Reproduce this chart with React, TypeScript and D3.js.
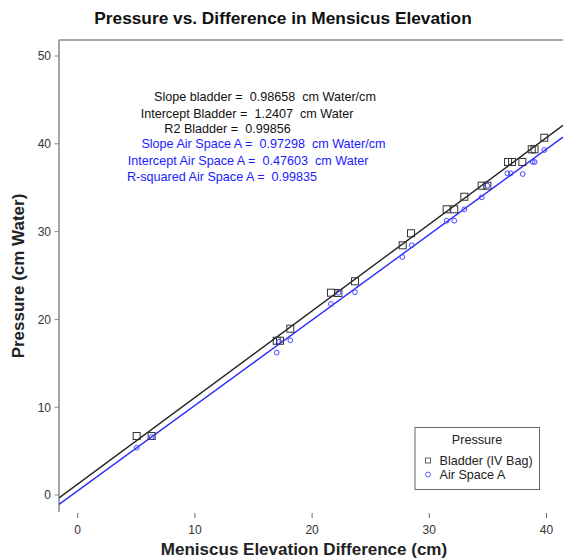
import React from "react";
import * as d3 from "d3";

const bladderX = [5.03, 6.31, 16.98, 17.26, 18.14, 21.61, 22.24, 23.66, 27.73, 28.44, 31.48, 32.13, 32.99, 34.47, 34.95, 36.72, 37.06, 37.94, 38.74, 38.98, 39.81];
const bladderY = [6.72, 6.72, 17.57, 17.57, 18.94, 23.04, 23.01, 24.34, 28.44, 29.81, 32.54, 32.54, 33.97, 35.23, 35.23, 37.93, 37.93, 37.93, 39.37, 39.37, 40.69];
const airX = [5.03, 6.31, 16.98, 17.2, 18.14, 21.61, 22.24, 23.66, 27.7, 28.5, 31.48, 32.13, 32.99, 34.47, 34.95, 36.66, 36.95, 37.97, 38.82, 38.99, 39.81];
const airY = [5.39, 6.6, 16.21, 17.46, 17.62, 21.75, 23.04, 23.09, 27.1, 28.44, 31.24, 31.24, 32.54, 33.9, 35.23, 36.64, 36.64, 36.56, 37.93, 37.93, 39.29];

const fitBladder = { slope: 0.98658, intercept: 1.2407 };
const fitAir = { slope: 0.97298, intercept: 0.47603 };

const xTicks = [0, 10, 20, 30, 40];
const yTicks = [0, 10, 20, 30, 40, 50];

const annotations = [
  { text: "Slope bladder =  0.98658  cm Water/cm", cx: 265, y: 101.3, color: "#111" },
  { text: "Intercept Bladder =  1.2407  cm Water", cx: 247, y: 117.6, color: "#111" },
  { text: "R2 Bladder =  0.99856", cx: 227.5, y: 133.3, color: "#111" },
  { text: "Slope Air Space A =  0.97298  cm Water/cm", cx: 263.5, y: 148.3, color: "#1a1aff" },
  { text: "Intercept Air Space A =  0.47603  cm Water", cx: 248, y: 164.6, color: "#1a1aff" },
  { text: "R-squared Air Space A =  0.99835", cx: 222, y: 180.6, color: "#1a1aff" },
];

const W = 563;
const H = 559;
const left = 59;
const right = 563;
const top = 40;
const bottom = 512;

export default function App() {
  const x = d3.scaleLinear().domain([0, 40]).range([77.7, 546.5]);
  const y = d3.scaleLinear().domain([0, 50]).range([495, 56]);
  const xDom = [x.invert(left), x.invert(right)];
  const fitPath = (f: { slope: number; intercept: number }) =>
    d3
      .line<number>()
      .x((d) => x(d))
      .y((d) => y(f.slope * d + f.intercept))(xDom) || "";
  const font = "'Liberation Sans', Arial, Helvetica, sans-serif";
  const pre = { whiteSpace: "pre" as const };
  return (
    <svg
      width={W}
      height={H}
      style={{ position: "absolute", left: 0, top: 0, background: "#fff" }}
      fontFamily={font}
    >
      <defs>
        <clipPath id="plotclip">
          <rect x={left} y={top} width={right - left} height={bottom - top} />
        </clipPath>
      </defs>
      <text x={283} y={23.5} textAnchor="middle" fontSize={17.3} fontWeight="bold" fill="#111">
        Pressure vs. Difference in Mensicus Elevation
      </text>
      <line x1={left} x2={right} y1={top} y2={top} stroke="#888" strokeWidth={1.5} />
      <line x1={left} x2={left} y1={top} y2={bottom} stroke="#888" strokeWidth={1.5} />
      {yTicks.map((t) => (
        <g key={"y" + t}>
          <line x1={left - 4.5} x2={left} y1={y(t)} y2={y(t)} stroke="#888" />
          <text x={left - 8} y={y(t) + 4.3} textAnchor="end" fontSize={12} fill="#333">
            {t}
          </text>
        </g>
      ))}
      {xTicks.map((t) => (
        <g key={"x" + t}>
          <line x1={x(t)} x2={x(t)} y1={513} y2={518} stroke="#666" />
          <text x={x(t)} y={533.5} textAnchor="middle" fontSize={12} fill="#333">
            {t}
          </text>
        </g>
      ))}
      <g clipPath="url(#plotclip)">
        <path d={fitPath(fitBladder)} stroke="#222" strokeWidth={1.4} fill="none" />
        <path d={fitPath(fitAir)} stroke="#2a2aff" strokeWidth={1.4} fill="none" />
        {bladderX.map((v, i) => (
          <rect
            key={"b" + i}
            x={x(v) - 3.5}
            y={y(bladderY[i]) - 3.5}
            width={7}
            height={7}
            fill="none"
            stroke="#333"
            strokeWidth={1}
          />
        ))}
        {airX.map((v, i) => (
          <circle
            key={"a" + i}
            cx={x(v)}
            cy={y(airY[i])}
            r={2.4}
            fill="none"
            stroke="#4444ff"
            strokeWidth={1}
          />
        ))}
      </g>
      {annotations.map((a, i) => (
        <text key={"n" + i} x={a.cx} y={a.y} textAnchor="middle" fontSize={12.6} fill={a.color} style={pre}>
          {a.text}
        </text>
      ))}
      <rect x={415} y={427.5} width={124.5} height={62} fill="#fff" stroke="#666" strokeWidth={1} />
      <text x={477} y={443.5} textAnchor="middle" fontSize={12.6} fill="#222">
        Pressure
      </text>
      <rect x={425.5} y={458} width={5} height={5} fill="none" stroke="#555" strokeWidth={0.9} />
      <text x={439.5} y={465} fontSize={12.6} fill="#222">
        Bladder (IV Bag)
      </text>
      <circle cx={428} cy={474.5} r={2.4} fill="none" stroke="#4444ff" strokeWidth={0.9} />
      <text x={439.5} y={479} fontSize={12.6} fill="#222">
        Air Space A
      </text>
      <text x={304} y={555} textAnchor="middle" fontSize={17} fontWeight="bold" fill="#222">
        Meniscus Elevation Difference (cm)
      </text>
      <text
        transform={`translate(24, 276) rotate(-90)`}
        textAnchor="middle"
        fontSize={17}
        fontWeight="bold"
        fill="#222"
      >
        Pressure (cm Water)
      </text>
    </svg>
  );
}
